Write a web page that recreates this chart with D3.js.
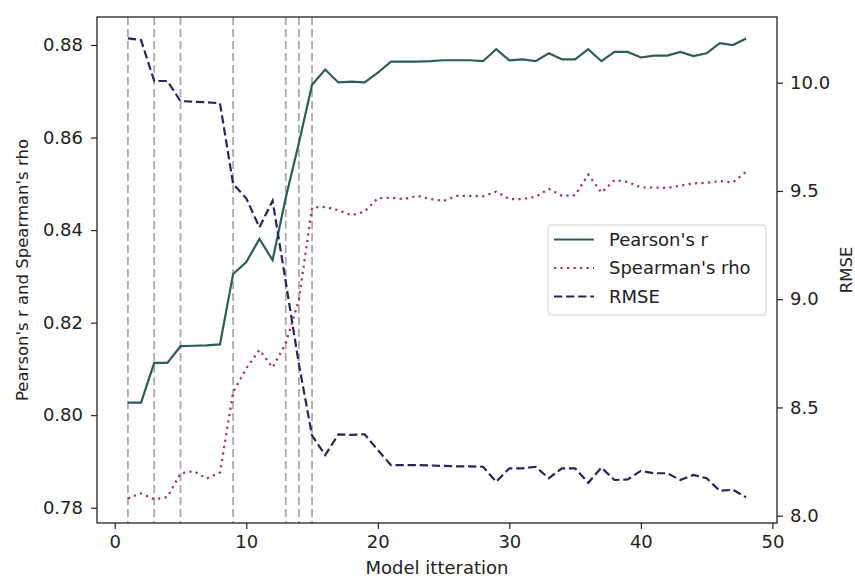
<!DOCTYPE html>
<meta charset="UTF-8">
<script src="https://d3js.org/d3.v7.min.js"></script>
<style>
  body { margin: 0; background: white; }
  text { font-family: "DejaVu Sans", sans-serif; fill: #222; }
</style>
<div id="chart"></div>
<script>

// Data
const iterations = d3.range(1, 49);
const pearson = [0.8027, 0.8027, 0.8113, 0.8113, 0.8149, 0.8150, 0.8151, 0.8153, 0.8305, 0.8331,
  0.8381, 0.8335, 0.8470, 0.8588, 0.8714, 0.8747, 0.8719, 0.8721, 0.8719, 0.8740,
  0.8764, 0.8764, 0.8764, 0.8765, 0.8767, 0.8767, 0.8767, 0.8765, 0.8791, 0.8767,
  0.8769, 0.8765, 0.8782, 0.8769, 0.8769, 0.8791, 0.8765, 0.8785, 0.8785, 0.8773,
  0.8777, 0.8777, 0.8785, 0.8776, 0.8782, 0.8804, 0.8800, 0.8814];
const spearman = [0.7820, 0.7831, 0.7818, 0.7823, 0.7874, 0.7879, 0.7863, 0.7876, 0.8050, 0.8101,
  0.8141, 0.8103, 0.8155, 0.8249, 0.8449, 0.8450, 0.8443, 0.8432, 0.8440, 0.8469,
  0.8470, 0.8467, 0.8474, 0.8467, 0.8463, 0.8474, 0.8474, 0.8473, 0.8483, 0.8467,
  0.8467, 0.8472, 0.8489, 0.8474, 0.8475, 0.8520, 0.8481, 0.8508, 0.8504, 0.8492,
  0.8492, 0.8491, 0.8496, 0.8501, 0.8502, 0.8506, 0.8503, 0.8526];
const rmse = [10.205, 10.197, 10.008, 10.008, 9.915, 9.912, 9.910, 9.905, 9.532, 9.466,
  9.332, 9.455, 9.08, 8.70, 8.37, 8.28, 8.376, 8.373, 8.376, 8.303,
  8.234, 8.234, 8.234, 8.232, 8.230, 8.228, 8.228, 8.226, 8.157, 8.219,
  8.219, 8.226, 8.173, 8.219, 8.219, 8.152, 8.222, 8.165, 8.168, 8.207,
  8.196, 8.196, 8.165, 8.188, 8.173, 8.115, 8.120, 8.085];
const markedIterations = [1, 3, 5, 9, 13, 14, 15];

const xTicks = [0, 10, 20, 30, 40, 50];
const leftTicks = [0.78, 0.80, 0.82, 0.84, 0.86, 0.88];
const rightTicks = [8.0, 8.5, 9.0, 9.5, 10.0];

// Layout
const W = 855, H = 579;
const margin = {top: 17, right: 78, bottom: 56, left: 97};
const width = W - margin.left - margin.right,
      height = H - margin.top - margin.bottom;

const colors = {pearson: "#2d5e58", spearman: "#a3344c", rmse: "#26265e", marker: "#aaaaaa"};

const svg = d3.select("#chart").append("svg")
  .attr("width", W).attr("height", H);

const g = svg.append("g").attr("transform", `translate(${margin.left},${margin.top})`);

const x = d3.scaleLinear().domain([-1.35, 50.35]).range([0, width]);
const yL = d3.scaleLinear().domain([0.77669, 0.88605]).range([height, 0]);
const yR = d3.scaleLinear().domain([7.9663, 10.3035]).range([height, 0]);

// Vertical marker lines
g.selectAll(".marker")
  .data(markedIterations)
  .join("line")
  .attr("x1", d => x(d)).attr("x2", d => x(d))
  .attr("y1", 0).attr("y2", height)
  .attr("stroke", colors.marker)
  .attr("stroke-width", 1.8)
  .attr("stroke-dasharray", "8,4");

const lineL = (vals) => d3.line().x((d, i) => x(iterations[i])).y(d => yL(d))(vals);
const lineR = (vals) => d3.line().x((d, i) => x(iterations[i])).y(d => yR(d))(vals);

g.append("path")
  .attr("d", lineL(pearson))
  .attr("fill", "none")
  .attr("stroke", colors.pearson)
  .attr("stroke-width", 2.2);

g.append("path")
  .attr("d", lineL(spearman))
  .attr("fill", "none")
  .attr("stroke", colors.spearman)
  .attr("stroke-width", 2.2)
  .attr("stroke-dasharray", "2.2,4.3");

g.append("path")
  .attr("d", lineR(rmse))
  .attr("fill", "none")
  .attr("stroke", colors.rmse)
  .attr("stroke-width", 2.2)
  .attr("stroke-dasharray", "8.3,3.8");

// Axes
const styleAxis = sel => {
  sel.select(".domain").remove();
  sel.selectAll(".tick line").attr("stroke", "#222").attr("stroke-width", 1.2);
  sel.selectAll(".tick text").style("font-size", "18px").attr("fill", "#222");
};

g.append("g")
  .attr("transform", `translate(0,${height})`)
  .call(d3.axisBottom(x).tickValues(xTicks).tickSize(6).tickPadding(6))
  .call(styleAxis);

g.append("g")
  .call(d3.axisLeft(yL).tickValues(leftTicks).tickFormat(d3.format(".2f")).tickSize(6).tickPadding(8))
  .call(styleAxis);

g.append("g")
  .attr("transform", `translate(${width},0)`)
  .call(d3.axisRight(yR).tickValues(rightTicks).tickFormat(d3.format(".1f")).tickSize(6).tickPadding(7))
  .call(styleAxis);

// Frame
g.append("rect")
  .attr("width", width).attr("height", height)
  .attr("fill", "none")
  .attr("stroke", "#222")
  .attr("stroke-width", 1.3);

// Axis labels
svg.append("text")
  .attr("x", margin.left + width / 2)
  .attr("y", 574)
  .attr("text-anchor", "middle")
  .style("font-size", "18px")
  .text("Model itteration");

svg.append("text")
  .attr("transform", `translate(28,${margin.top + height / 2}) rotate(-90)`)
  .attr("text-anchor", "middle")
  .style("font-size", "16.5px")
  .text("Pearson's r and Spearman's rho");

svg.append("text")
  .attr("transform", `translate(840,${margin.top + height / 2}) rotate(-90)`)
  .attr("text-anchor", "middle")
  .attr("dy", "0.75em")
  .style("font-size", "16.5px")
  .text("RMSE");

// Legend
const legendItems = [
  {label: "Pearson's r", color: colors.pearson, dash: null},
  {label: "Spearman's rho", color: colors.spearman, dash: "2.2,4.3"},
  {label: "RMSE", color: colors.rmse, dash: "8.3,3.8"}
];

const legend = svg.append("g").attr("transform", "translate(548,225)");

legend.append("rect")
  .attr("width", 218).attr("height", 90)
  .attr("rx", 3)
  .attr("fill", "white").attr("fill-opacity", 0.8)
  .attr("stroke", "#d0d0d0");

legend.selectAll("line")
  .data(legendItems)
  .join("line")
  .attr("x1", 6).attr("x2", 46)
  .attr("y1", (d, i) => 14.5 + i * 28.5).attr("y2", (d, i) => 14.5 + i * 28.5)
  .attr("stroke", d => d.color)
  .attr("stroke-width", 2.2)
  .attr("stroke-dasharray", d => d.dash);

legend.selectAll("text")
  .data(legendItems)
  .join("text")
  .attr("x", 61)
  .attr("y", (d, i) => 14.5 + i * 28.5)
  .attr("dy", "0.35em")
  .style("font-size", "18px")
  .text(d => d.label);

</script>
